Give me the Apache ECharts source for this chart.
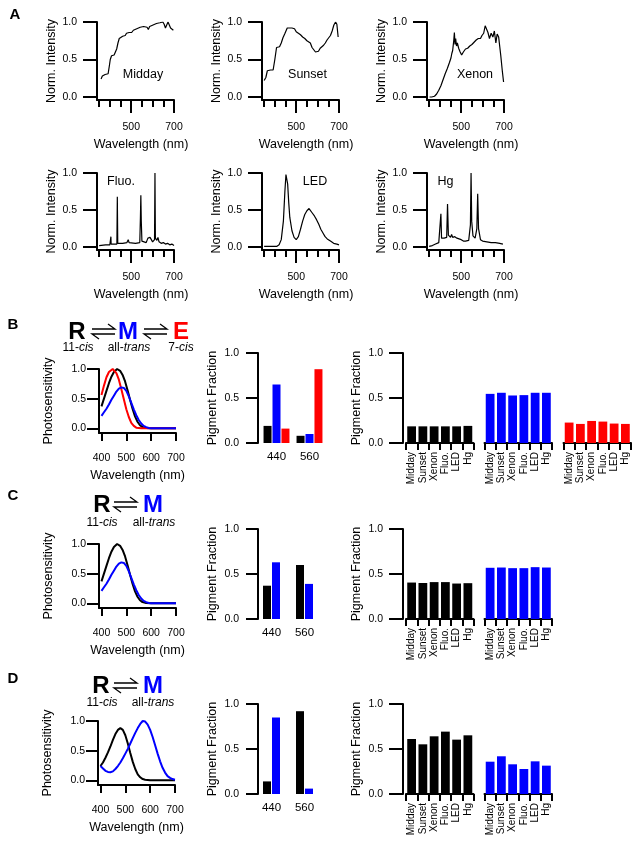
<!DOCTYPE html>
<html><head><meta charset="utf-8">
<script src="https://cdn.jsdelivr.net/npm/echarts@6/dist/echarts.min.js"></script>
<style>html,body{margin:0;padding:0;background:#fff}#c{width:641px;height:846px}</style>
</head><body><div id="c"></div>
<script>
const FONT = '"Liberation Sans", Arial, sans-serif';
const BLUE = '#0000ff', RED = '#ff0000', BLACK = '#000000';

// ---- Panel A: normalized light-source spectra [nm, intensity] ----
const midday = [[359,0.24],[365,0.28],[372,0.27],[378,0.30],[385,0.29],[392,0.31],[398,0.42],[402,0.50],[408,0.55],[414,0.57],[420,0.56],[426,0.60],[432,0.64],[438,0.72],[444,0.78],[452,0.80],[460,0.81],[466,0.83],[472,0.82],[478,0.85],[484,0.84],[490,0.86],[496,0.87],[502,0.86],[510,0.89],[518,0.90],[526,0.91],[534,0.91],[542,0.93],[550,0.92],[558,0.94],[566,0.95],[574,0.93],[580,0.90],[586,0.94],[594,0.95],[602,0.96],[610,0.97],[618,0.98],[626,0.97],[634,0.99],[642,0.98],[648,1.0],[654,0.97],[660,0.92],[666,0.96],[672,1.0],[678,0.98],[684,0.92],[690,0.90],[697,0.89]];
const sunset = [[350,0.22],[358,0.26],[365,0.35],[372,0.34],[380,0.36],[386,0.37],[392,0.36],[400,0.50],[408,0.66],[415,0.68],[422,0.67],[430,0.72],[438,0.79],[446,0.84],[452,0.88],[458,0.92],[470,0.92],[480,0.92],[486,0.90],[492,0.91],[500,0.87],[510,0.85],[520,0.83],[530,0.80],[540,0.78],[550,0.75],[558,0.73],[566,0.72],[574,0.66],[582,0.63],[590,0.60],[596,0.58],[604,0.61],[612,0.65],[620,0.67],[628,0.69],[636,0.72],[644,0.76],[652,0.79],[660,0.82],[668,0.88],[676,0.96],[684,1.0],[690,0.97],[696,0.80]];
const xenon = [[352,0.0],[362,0.0],[375,0.01],[385,0.04],[395,0.09],[405,0.15],[415,0.23],[425,0.31],[435,0.38],[445,0.46],[452,0.52],[456,0.58],[460,0.62],[465,0.75],[468,0.86],[471,0.70],[474,0.78],[478,0.68],[482,0.72],[488,0.65],[495,0.60],[502,0.56],[510,0.60],[520,0.64],[530,0.65],[540,0.68],[550,0.70],[560,0.73],[570,0.76],[580,0.78],[590,0.78],[597,0.82],[605,0.85],[612,0.95],[618,0.93],[625,0.86],[632,0.78],[640,0.85],[648,0.80],[655,0.88],[662,0.72],[668,0.84],[675,0.80],[685,0.55],[692,0.35],[698,0.20]];
const fluo = [[350,0.02],[380,0.03],[400,0.03],[404,0.04],[405,0.14],[406,0.04],[420,0.04],[433,0.04],[435,0.68],[437,0.05],[460,0.05],[480,0.06],[486,0.10],[490,0.06],[520,0.05],[540,0.06],[543,0.40],[545,0.70],[547,0.35],[550,0.08],[570,0.06],[578,0.12],[582,0.10],[588,0.13],[592,0.11],[600,0.07],[609,0.10],[611,1.0],[613,0.12],[620,0.09],[625,0.13],[630,0.07],[640,0.05],[650,0.06],[660,0.04],[670,0.05],[680,0.03],[690,0.04],[700,0.02]];
const led = [[350,0.01],[380,0.01],[410,0.01],[420,0.03],[430,0.10],[440,0.35],[447,0.75],[452,0.98],[455,1.0],[460,0.85],[465,0.60],[470,0.40],[480,0.22],[490,0.13],[500,0.10],[510,0.14],[520,0.24],[530,0.35],[540,0.44],[550,0.49],[560,0.52],[565,0.51],[575,0.46],[585,0.42],[595,0.37],[605,0.31],[615,0.24],[625,0.19],[635,0.14],[645,0.11],[660,0.08],[675,0.05],[690,0.04],[700,0.03]];
const hg = [[350,0.01],[365,0.02],[380,0.04],[395,0.06],[402,0.08],[405,0.45],[408,0.12],[420,0.12],[432,0.13],[436,0.58],[440,0.16],[450,0.13],[455,0.17],[460,0.13],[470,0.14],[480,0.12],[490,0.11],[500,0.10],[510,0.08],[520,0.08],[535,0.09],[543,0.30],[546,1.0],[549,0.35],[555,0.15],[565,0.12],[573,0.25],[577,0.72],[581,0.25],[590,0.10],[600,0.08],[620,0.07],[640,0.06],[660,0.06],[680,0.05],[695,0.04]];

// ---- Photosensitivity spectra [nm, value] ----
const photoB_R = [[400,0.37],[410,0.50],[420,0.63],[430,0.76],[440,0.87],[450,0.95],[463,1.0],[475,0.97],[485,0.90],[495,0.79],[505,0.64],[515,0.48],[525,0.33],[535,0.20],[545,0.11],[555,0.05],[565,0.02],[580,0.005],[600,0],[650,0],[700,0]];
const photoB_E = [[400,0.56],[410,0.72],[420,0.86],[430,0.95],[445,1.0],[460,0.93],[470,0.82],[480,0.66],[490,0.49],[500,0.32],[510,0.19],[520,0.09],[530,0.04],[540,0.01],[560,0],[700,0]];
const photoB_M = [[400,0.21],[410,0.27],[420,0.33],[430,0.40],[440,0.48],[450,0.55],[460,0.62],[470,0.67],[480,0.69],[490,0.68],[500,0.63],[510,0.54],[520,0.43],[530,0.32],[540,0.22],[550,0.14],[560,0.08],[570,0.04],[580,0.02],[590,0.005],[600,0],[700,0]];
const photoC_R = [[400,0.37],[410,0.50],[420,0.63],[430,0.76],[440,0.87],[450,0.95],[463,1.0],[475,0.97],[485,0.90],[495,0.79],[505,0.64],[515,0.48],[525,0.33],[535,0.20],[545,0.11],[555,0.05],[565,0.02],[580,0.005],[600,0],[650,0],[700,0]];
const photoC_M = [[400,0.21],[410,0.27],[420,0.33],[430,0.40],[440,0.48],[450,0.55],[460,0.62],[470,0.67],[480,0.69],[490,0.68],[500,0.63],[510,0.54],[520,0.43],[530,0.32],[540,0.22],[550,0.14],[560,0.08],[570,0.04],[580,0.02],[590,0.005],[600,0],[700,0]];
const photoD_R = [[400,0.24],[410,0.30],[420,0.38],[430,0.47],[440,0.57],[450,0.68],[460,0.78],[470,0.85],[480,0.88],[490,0.85],[500,0.76],[510,0.62],[520,0.46],[530,0.31],[540,0.19],[550,0.10],[560,0.05],[570,0.02],[580,0.01],[600,0],[700,0]];
const photoD_M = [[400,0.24],[410,0.20],[420,0.16],[430,0.14],[440,0.135],[450,0.15],[460,0.19],[470,0.24],[480,0.30],[490,0.37],[500,0.45],[510,0.53],[520,0.62],[530,0.71],[540,0.80],[550,0.88],[560,0.95],[570,1.0],[580,0.99],[590,0.94],[600,0.85],[610,0.73],[620,0.59],[630,0.45],[640,0.32],[650,0.21],[660,0.13],[670,0.07],[680,0.04],[690,0.02],[700,0.01]];

// ---- Pigment fractions under monochromatic light ----
const monoWavelengths = ['440', '560'];
const monoB_R = [0.19, 0.08], monoB_M = [0.65, 0.10], monoB_E = [0.16, 0.82];
const monoC_R = [0.37, 0.60], monoC_M = [0.63, 0.39];
const monoD_R = [0.14, 0.92], monoD_M = [0.85, 0.06];

// ---- Pigment fractions under light sources ----
const sources = ['Midday', 'Sunset', 'Xenon', 'Fluo.', 'LED', 'Hg'];
const srcB_R = [0.185, 0.185, 0.185, 0.185, 0.185, 0.19];
const srcB_M = [0.546, 0.558, 0.528, 0.532, 0.558, 0.558];
const srcB_E = [0.227, 0.212, 0.245, 0.238, 0.216, 0.212];
const srcC_R = [0.405, 0.40, 0.41, 0.41, 0.394, 0.398];
const srcC_M = [0.569, 0.572, 0.565, 0.565, 0.576, 0.572];
const srcD_R = [0.611, 0.552, 0.641, 0.693, 0.604, 0.652];
const srcD_M = [0.359, 0.419, 0.330, 0.278, 0.363, 0.315];

// tick sets
const specMinorTicks = [350, 400, 450, 550, 600, 650];
const specMajorTicks = [500, 700];
const photoTicks = [400, 500, 600, 700];
const unitTicks = [0, 0.5, 1];

// ---------------------------------------------------------------
const grids = [], xAxes = [], yAxes = [], series = [], graphics = [];
function isObj(o){return o && typeof o === 'object' && !Array.isArray(o);}
function merge(a, b){ const r = Object.assign({}, a); for (const k in b){ r[k] = (isObj(a[k]) && isObj(b[k])) ? merge(a[k], b[k]) : b[k]; } return r; }
function base(){ return {
  axisLine:{show:true, onZero:false, lineStyle:{color:BLACK, width:2}},
  axisTick:{show:true, lineStyle:{color:BLACK, width:2}},
  axisLabel:{color:BLACK, fontFamily:FONT, fontSize:10.5},
  splitLine:{show:false},
  nameTextStyle:{color:BLACK, fontFamily:FONT, fontSize:12.5}
};}
const fmt1 = v => Number(v).toFixed(1);
function text(x, y, t, o){ graphics.push({type:'text', x, y, silent:true, style:Object.assign({text:t, align:'center', verticalAlign:'middle', fontFamily:FONT, fontSize:12.5, fill:BLACK}, o||{})}); }

function spectrum(left, top, height, data, label, lx, ly){
  const gi = grids.length; grids.push({left, top, width:77, height});
  const xi = xAxes.length;
  xAxes.push(merge(base(), {type:'value', gridIndex:gi, position:'bottom', min:340, max:700,
    axisTick:{customValues:specMinorTicks, length:7}, axisLabel:{show:false}}));
  xAxes.push(merge(base(), {type:'value', gridIndex:gi, position:'bottom', min:340, max:700,
    axisLine:{show:false}, axisTick:{customValues:specMajorTicks, length:13},
    axisLabel:{customValues:specMajorTicks, margin:22},
    name:'Wavelength (nm)', nameLocation:'middle', nameGap:38, nameTextStyle:{padding:[0,0,0,11]}}));
  const yi = yAxes.length;
  yAxes.push(merge(base(), {type:'value', gridIndex:gi, min:-0.04, max:1,
    axisTick:{customValues:unitTicks, length:14}, axisLabel:{customValues:unitTicks, margin:20, formatter:fmt1},
    name:'Norm. Intensity', nameLocation:'middle', nameGap:38}));
  series.push({type:'line', xAxisIndex:xi, yAxisIndex:yi, data, symbol:'none', lineStyle:{color:BLACK, width:1.2}});
  text(lx, ly, label);
}

function photo(left, top, curves){
  const gi = grids.length; grids.push({left, top, width:77, height:64});
  const xi = xAxes.length;
  xAxes.push(merge(base(), {type:'value', gridIndex:gi, position:'bottom', min:390, max:700,
    axisTick:{customValues:photoTicks, length:8}, axisLabel:{customValues:photoTicks, margin:20},
    name:'Wavelength (nm)', nameLocation:'middle', nameGap:36}));
  const yi = yAxes.length;
  yAxes.push(merge(base(), {type:'value', gridIndex:gi, min:-0.08, max:1,
    axisTick:{customValues:unitTicks, length:12}, axisLabel:{customValues:unitTicks, margin:13, formatter:fmt1},
    name:'Photosensitivity', nameLocation:'middle', nameGap:44}));
  curves.forEach(([d, c]) => series.push({type:'line', xAxisIndex:xi, yAxisIndex:yi, data:d, symbol:'none', lineStyle:{color:c, width:2}}));
}

function mono(left, top, yOffset, bars){
  const gi = grids.length; grids.push({left, top, width:66, height:90});
  const xi = xAxes.length;
  xAxes.push(merge(base(), {type:'category', gridIndex:gi, data:monoWavelengths, position:'bottom',
    axisLine:{show:false}, axisTick:{show:false}, axisLabel:{fontSize:11.5, margin:8}}));
  const yi = yAxes.length;
  yAxes.push(merge(base(), {type:'value', gridIndex:gi, min:0, max:1, interval:0.5, offset:yOffset,
    axisTick:{length:12}, axisLabel:{margin:19, formatter:fmt1},
    name:'Pigment Fraction', nameLocation:'middle', nameGap:39}));
  bars.forEach(([d, c]) => series.push({type:'bar', xAxisIndex:xi, yAxisIndex:yi, data:d, barWidth:8, barGap:'12%', itemStyle:{color:c}}));
}

function srcGroup(left, top, data, color, showY){
  const gi = grids.length; grids.push({left, top, width:67.5, height:90});
  const xi = xAxes.length;
  xAxes.push(merge(base(), {type:'category', gridIndex:gi, data:sources, position:'bottom',
    axisTick:{length:7, alignWithLabel:false}, axisLabel:{rotate:90, fontSize:10, margin:9, interval:0}}));
  const yi = yAxes.length;
  yAxes.push(merge(base(), {type:'value', gridIndex:gi, min:0, max:1, interval:0.5, offset:3, show:showY,
    axisTick:{length:14}, axisLabel:{margin:20, formatter:fmt1},
    name:showY ? 'Pigment Fraction' : '', nameLocation:'middle', nameGap:40}));
  series.push({type:'bar', xAxisIndex:xi, yAxisIndex:yi, data, barCategoryGap:'22%', itemStyle:{color}});
}

function scheme(rx, mx, ex, y, arrowXs){
  text(rx, y, 'R', {fontSize:24, fontWeight:'bold', fill:BLACK});
  text(mx, y, 'M', {fontSize:24, fontWeight:'bold', fill:BLUE});
  if (ex != null) text(ex, y, 'E', {fontSize:24, fontWeight:'bold', fill:RED});
  arrowXs.forEach(([a, b]) => {
    graphics.push({type:'polyline', silent:true, shape:{points:[[a, y-3],[b, y-3],[b-7, y-8]]}, style:{stroke:BLACK, lineWidth:1.3, fill:null}});
    graphics.push({type:'polyline', silent:true, shape:{points:[[b, y+2],[a, y+2],[a+7, y+7]]}, style:{stroke:BLACK, lineWidth:1.3, fill:null}});
  });
}
const rich = {i:{fontStyle:'italic', fontFamily:FONT, fontSize:12, fill:BLACK}, n:{fontFamily:FONT, fontSize:12, fill:BLACK}};
function sub(x, y, t){ text(x, y, t, {fontSize:12, rich}); }

// Panel A
spectrum(97, 22, 78, midday, 'Midday', 143, 75);
spectrum(262, 22, 78, sunset, 'Sunset', 307.5, 75);
spectrum(427, 22, 78, xenon, 'Xenon', 475, 75);
spectrum(97, 173, 77, fluo, 'Fluo.', 121, 182);
spectrum(262, 173, 77, led, 'LED', 315, 182);
spectrum(427, 173, 77, hg, 'Hg', 445.5, 182);

// Panel B
photo(99, 369, [[photoB_R, BLACK], [photoB_E, RED], [photoB_M, BLUE]]);
mono(260, 353, 2, [[monoB_R, BLACK], [monoB_M, BLUE], [monoB_E, RED]]);
srcGroup(406, 353, srcB_R, BLACK, true);
srcGroup(484.5, 353, srcB_M, BLUE, false);
srcGroup(563.5, 353, srcB_E, RED, false);
scheme(77, 128, 181, 332, [[92, 115], [144, 167]]);
sub(78, 348, '{n|11-}{i|cis}'); sub(129, 348, '{n|all-}{i|trans}'); sub(181, 348, '{n|7-}{i|cis}');

// Panel C
photo(99, 544, [[photoC_R, BLACK], [photoC_M, BLUE]]);
mono(255, 529, -3, [[monoC_R, BLACK], [monoC_M, BLUE]]);
srcGroup(406, 529, srcC_R, BLACK, true);
srcGroup(484.5, 529, srcC_M, BLUE, false);
scheme(102, 153, null, 505, [[114, 137]]);
sub(102, 523, '{n|11-}{i|cis}'); sub(154, 523, '{n|all-}{i|trans}');

// Panel D
photo(98, 721, [[photoD_R, BLACK], [photoD_M, BLUE]]);
mono(255, 704, -3, [[monoD_R, BLACK], [monoD_M, BLUE]]);
srcGroup(406, 704, srcD_R, BLACK, true);
srcGroup(484.5, 704, srcD_M, BLUE, false);
scheme(101, 153, null, 686, [[114, 137]]);
sub(102, 703, '{n|11-}{i|cis}'); sub(153, 703, '{n|all-}{i|trans}');

// panel letters
[['A', 15, 15], ['B', 13, 325], ['C', 13, 496], ['D', 13, 679]].forEach(([t, x, y]) => text(x, y, t, {fontSize:15, fontWeight:'bold'}));

const chart = echarts.init(document.getElementById('c'), null, {renderer:'canvas'});
chart.setOption({animation:false, backgroundColor:'#fff', textStyle:{fontFamily:FONT},
  grid:grids, xAxis:xAxes, yAxis:yAxes, series, graphic:{elements:graphics}});
</script></body></html>
